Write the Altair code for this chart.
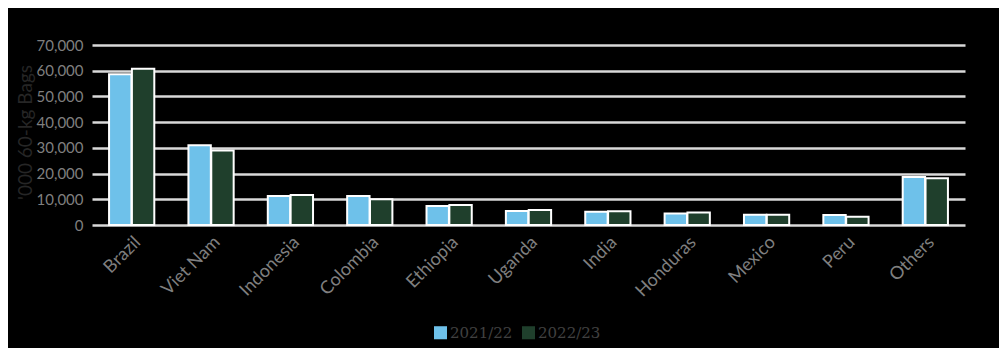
import altair as alt
import pandas as pd

countries = ["Brazil", "Viet Nam", "Indonesia", "Colombia", "Ethiopia", "Uganda",
             "India", "Honduras", "Mexico", "Peru", "Others"]
seasons = ["2021/22", "2022/23"]
v_2021_22 = [58600, 31000, 11300, 11300, 7400, 5400, 5200, 4500, 3950, 3900, 18700]
v_2022_23 = [60800, 29000, 11700, 10000, 7800, 5800, 5300, 4900, 4000, 3250, 18200]
colors = ["#6EC1EA", "#1F3F2C"]
y_ticks = [0, 10000, 20000, 30000, 40000, 50000, 60000, 70000]

rows = []
for c, a, b in zip(countries, v_2021_22, v_2022_23):
    rows.append({"country": c, "season": seasons[0], "value": a})
    rows.append({"country": c, "season": seasons[1], "value": b})
df = pd.DataFrame(rows)

chart = alt.Chart(df).mark_bar(stroke="white", strokeWidth=2).encode(
    x=alt.X("country:N", sort=countries, title=None,
            scale=alt.Scale(paddingInner=0.43, paddingOuter=0.215),
            axis=alt.Axis(labelAngle=-45, labelColor="#7F7F7F", labelFontSize=18,
                          labelFont="Lato", ticks=False, domain=False, labelPadding=8)),
    xOffset=alt.XOffset("season:N", sort=seasons, scale=alt.Scale(paddingInner=0.02)),
    y=alt.Y("value:Q", title="'000 60-kg Bags",
            scale=alt.Scale(domain=[0, 70000]),
            axis=alt.Axis(values=y_ticks, format=",.0f", labelColor="#7F7F7F", labelFontSize=15,
                          labelFont="Lato", ticks=False, domain=False, labelPadding=9,
                          gridColor="#D9D9D9", gridWidth=2.5,
                          titleColor="#262626", titleFontSize=19, titleFont="Lato",
                          titleFontWeight="normal", titleX=-67, titleY=87,
                          titleBaseline="middle")),
    color=alt.Color("season:N", sort=seasons,
                    scale=alt.Scale(domain=seasons, range=colors),
                    legend=alt.Legend(title=None, orient="none", direction="horizontal",
                                      legendX=341, legendY=280,
                                      symbolType="square", symbolSize=170,
                                      symbolStrokeWidth=0,
                                      labelColor="#404040", labelFontSize=15,
                                      labelFont="DejaVu Serif", columnPadding=8,
                                      labelOffset=2)),
).properties(
    width=873, height=180,
    autosize=alt.AutoSizeParams(type="none"),
    padding={"left": 84, "top": 37, "right": 34, "bottom": 123},
).configure(
    background="#000000",
).configure_view(
    stroke=None,
)

chart.save("out.html", embed_options={"renderer": "svg", "actions": False})
